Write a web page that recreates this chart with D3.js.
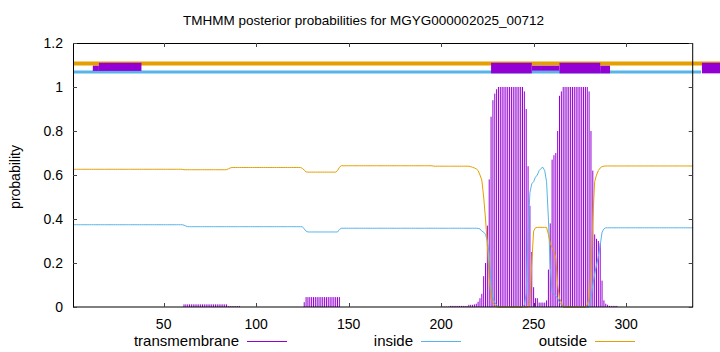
<!DOCTYPE html>
<html><head><meta charset="utf-8">
<script src="https://cdn.jsdelivr.net/npm/d3@7/dist/d3.min.js"></script>
<style>
body{margin:0;background:#fff;}
text{font-family:"Liberation Sans",Arial,Helvetica,sans-serif;fill:#000;}
</style>
</head><body>
<svg id="chart" width="720" height="352"></svg>
<script>
// ---------------- data ----------------
const title = "TMHMM posterior probabilities for MGYG000002025_00712";
const seriesNames = ["transmembrane", "inside", "outside"];
const xTicks = [50, 100, 150, 200, 250, 300];
const xTickLabels = ["50", "100", "150", "200", "250", "300"];
const yTicks = [0, 0.2, 0.4, 0.6, 0.8, 1, 1.2];
const yTickLabels = ["0", "0.2", "0.4", "0.6", "0.8", "1", "1.2"];
const seqLength = 336;

// posterior probability per residue (1..336)
const transmembrane = [
0,0,0,0,0,0,0,0,0,0,0,0,0,0,0,0,0,0,0,0,
0,0,0,0,0,0,0,0,0,0,0,0,0,0,0,0,0,0,0,0,
0,0,0,0,0,0,0,0,0,0,0,0,0,0,0,0,0,0,0,0,
0.012,0.012,0.012,0.012,0.012,0.012,0.012,0.012,0.012,0.012,0.012,0.012,0.012,0.012,0.012,0.012,0.012,0.012,0.012,0.012,
0.012,0.012,0.012,0.012,0.004,0.004,0.004,0.004,0.004,0.004,0.004,0,0,0,0,0,0,0,0,0,
0,0,0,0,0,0,0,0,0,0,0,0,0,0,0,0,0,0,0,0,
0,0,0,0,0,0.022,0.045,0.045,0.045,0.045,0.045,0.045,0.045,0.045,0.045,0.045,0.045,0.045,0.045,0.045,
0.045,0.045,0.045,0.045,0.045,0,0,0,0,0,0,0,0,0,0,0,0,0,0,0,
0,0,0,0,0,0,0,0,0,0,0,0,0,0,0,0,0,0,0,0,
0,0,0,0,0,0,0,0,0,0,0,0,0,0,0,0,0,0,0,0.002,
0.002,0.002,0.002,0.002,0.005,0.005,0.005,0.005,0.005,0.005,0.005,0.005,0.005,0.005,0.01,0.01,0.01,0.012,0.015,0.024,
0.04,0.06,0.14,0.2,0.37,0.58,0.865,0.94,0.97,0.99,1,1,1,1,1,1,1,1,1,1,
1,1,1,1,0.98,0.9,0.64,0.46,0.25,0.09,0.04,0.04,0.02,0.02,0.02,0.02,0.03,0.17,0.38,0.67,
0.69,0.7,0.8,0.96,0.98,1,1,1,1,1,1,1,1,1,1,1,1,1,1,0.98,
0.8,0.62,0.33,0.31,0.3,0.29,0.12,0.03,0.015,0.01,0.005,0.005,0.005,0.005,0.005,0,0,0,0,0,
0,0,0,0,0,0,0,0,0,0,0,0,0,0,0,0,0,0,0,0,
0,0,0,0,0,0,0,0,0,0,0,0,0,0,0,0
];
const inside = [
0.374,0.374,0.374,0.374,0.374,0.374,0.374,0.374,0.374,0.374,0.374,0.374,0.374,0.374,0.374,0.374,0.374,0.374,0.374,0.374,
0.374,0.374,0.374,0.374,0.374,0.374,0.374,0.374,0.374,0.374,0.374,0.374,0.374,0.374,0.374,0.374,0.374,0.374,0.374,0.374,
0.374,0.374,0.374,0.374,0.374,0.374,0.374,0.374,0.374,0.374,0.374,0.374,0.374,0.374,0.374,0.374,0.374,0.374,0.374,0.374,
0.372,0.368,0.365,0.365,0.365,0.365,0.365,0.365,0.365,0.365,0.365,0.365,0.365,0.365,0.365,0.365,0.365,0.365,0.365,0.365,
0.365,0.365,0.365,0.365,0.365,0.365,0.365,0.365,0.365,0.365,0.365,0.365,0.365,0.365,0.365,0.365,0.365,0.365,0.365,0.365,
0.365,0.365,0.365,0.365,0.365,0.365,0.365,0.365,0.365,0.365,0.365,0.365,0.365,0.365,0.365,0.365,0.365,0.365,0.365,0.365,
0.365,0.365,0.365,0.365,0.365,0.355,0.345,0.341,0.341,0.341,0.341,0.341,0.341,0.341,0.341,0.341,0.341,0.341,0.341,0.341,
0.341,0.341,0.341,0.341,0.352,0.358,0.358,0.358,0.358,0.358,0.358,0.358,0.358,0.358,0.358,0.358,0.358,0.358,0.358,0.358,
0.358,0.358,0.358,0.358,0.358,0.358,0.358,0.358,0.358,0.358,0.358,0.358,0.358,0.358,0.358,0.358,0.358,0.358,0.358,0.358,
0.358,0.358,0.358,0.358,0.358,0.358,0.358,0.358,0.358,0.358,0.358,0.358,0.358,0.358,0.358,0.358,0.358,0.358,0.358,0.358,
0.358,0.358,0.358,0.358,0.358,0.358,0.358,0.358,0.358,0.358,0.358,0.358,0.358,0.358,0.358,0.358,0.358,0.358,0.358,0.357,
0.355,0.345,0.34,0.33,0.3,0.24,0.1,0.04,0.02,0.01,0,0,0,0,0,0,0,0,0,0,
0,0,0,0,0.01,0.06,0.34,0.52,0.56,0.57,0.59,0.6,0.62,0.63,0.635,0.62,0.57,0.4,0.18,0.07,
0.06,0.05,0.04,0.02,0.01,0,0,0,0,0,0,0,0,0,0,0,0,0,0,0,
0.04,0.1,0.15,0.19,0.23,0.28,0.34,0.355,0.36,0.36,0.36,0.36,0.36,0.36,0.36,0.36,0.36,0.36,0.36,0.36,
0.36,0.36,0.36,0.36,0.36,0.36,0.36,0.36,0.36,0.36,0.36,0.36,0.36,0.36,0.36,0.36,0.36,0.36,0.36,0.36,
0.36,0.36,0.36,0.36,0.36,0.36,0.36,0.36,0.36,0.36,0.36,0.36,0.36,0.36,0.36,0.36
];
const outside = [
0.626,0.626,0.626,0.626,0.626,0.626,0.626,0.626,0.626,0.626,0.626,0.626,0.626,0.626,0.626,0.626,0.626,0.626,0.626,0.626,
0.626,0.626,0.626,0.626,0.626,0.626,0.626,0.626,0.626,0.626,0.626,0.626,0.626,0.626,0.626,0.626,0.626,0.626,0.626,0.626,
0.626,0.626,0.626,0.626,0.626,0.626,0.626,0.626,0.626,0.626,0.626,0.626,0.626,0.626,0.626,0.626,0.626,0.626,0.626,0.626,
0.624,0.624,0.624,0.624,0.624,0.624,0.624,0.624,0.624,0.624,0.624,0.624,0.624,0.624,0.624,0.624,0.624,0.624,0.624,0.624,
0.624,0.624,0.624,0.624,0.628,0.632,0.634,0.634,0.634,0.634,0.634,0.634,0.634,0.634,0.634,0.634,0.634,0.634,0.634,0.634,
0.634,0.634,0.634,0.634,0.634,0.634,0.634,0.634,0.634,0.634,0.634,0.634,0.634,0.634,0.634,0.634,0.634,0.634,0.634,0.634,
0.634,0.634,0.634,0.634,0.63,0.622,0.614,0.613,0.613,0.613,0.613,0.613,0.613,0.613,0.613,0.613,0.613,0.613,0.613,0.613,
0.613,0.613,0.613,0.62,0.635,0.642,0.642,0.642,0.642,0.642,0.642,0.642,0.642,0.642,0.642,0.642,0.642,0.642,0.642,0.642,
0.642,0.642,0.642,0.642,0.642,0.642,0.642,0.642,0.642,0.642,0.642,0.642,0.642,0.642,0.642,0.642,0.642,0.642,0.642,0.642,
0.642,0.642,0.642,0.642,0.642,0.642,0.642,0.642,0.642,0.642,0.642,0.642,0.642,0.642,0.642,0.64,0.64,0.64,0.64,0.64,
0.64,0.64,0.64,0.64,0.64,0.64,0.64,0.64,0.64,0.64,0.64,0.64,0.64,0.64,0.64,0.638,0.635,0.632,0.628,0.62,
0.6,0.577,0.5,0.4,0.28,0.13,0.04,0.02,0.01,0,0,0,0,0,0,0,0,0,0,0,
0,0,0,0,0,0,0,0.02,0.2,0.345,0.36,0.362,0.362,0.362,0.362,0.362,0.362,0.33,0.29,0.27,
0.255,0.22,0.1,0.04,0.02,0,0,0,0,0,0,0,0,0,0,0,0,0,0.01,0.04,
0.17,0.4,0.57,0.6,0.62,0.632,0.638,0.64,0.641,0.641,0.641,0.641,0.641,0.641,0.641,0.641,0.641,0.641,0.641,0.641,
0.641,0.641,0.641,0.641,0.641,0.641,0.641,0.641,0.641,0.641,0.641,0.641,0.641,0.641,0.641,0.641,0.641,0.641,0.641,0.641,
0.641,0.641,0.641,0.641,0.641,0.641,0.641,0.641,0.641,0.641,0.641,0.641,0.641,0.641,0.641,0.641
];

// predicted topology strip above the plot: [start residue, end residue]
const topOutside = [[1, 352]];
const topInside = [[1, 340.5]];
// membrane boxes: [start, end, upper value, lower value]
const topMembrane = [
  [11.7, 15, 1.097, 1.073],
  [15, 38, 1.110, 1.073],
  [227, 249, 1.110, 1.062],
  [249, 264, 1.097, 1.074],
  [264, 286, 1.110, 1.062],
  [286, 291.3, 1.097, 1.062],
  [341, 352, 1.110, 1.062]
];
const topOutsideLevel = 1.107;
const topInsideLevel = 1.068;

// ---------------- drawing ----------------
const colors = {transmembrane: "#9400d3", inside: "#56b4e9", outside: "#e69f00"};
const L = 73, R = 692.7, T = 43, B = 307;
const svg = d3.select("#chart");
const x = d3.scaleLinear().domain([1, seqLength]).range([L, R]);
const y = d3.scaleLinear().domain([0, 1.2]).range([B, T]);
const residues = transmembrane.map((d, i) => i + 1);

// impulses
svg.append("g").selectAll("line").data(residues).join("line")
  .attr("x1", d => x(d)).attr("x2", d => x(d))
  .attr("y1", y(0)).attr("y2", d => y(transmembrane[d - 1]))
  .attr("stroke", colors.transmembrane).attr("stroke-width", 1);

const lineGen = arr => d3.line().x(d => x(d)).y(d => y(arr[d - 1]))(residues);
svg.append("path").attr("d", lineGen(inside)).attr("fill", "none")
  .attr("stroke", colors.inside).attr("stroke-width", 1);
svg.append("path").attr("d", lineGen(outside)).attr("fill", "none")
  .attr("stroke", colors.outside).attr("stroke-width", 1);

// topology strip
svg.append("g").selectAll("line").data(topOutside).join("line")
  .attr("x1", d => x(d[0])).attr("x2", d => x(d[1]))
  .attr("y1", y(topOutsideLevel)).attr("y2", y(topOutsideLevel))
  .attr("stroke", colors.outside).attr("stroke-width", 4);
svg.append("g").selectAll("line").data(topInside).join("line")
  .attr("x1", d => x(d[0])).attr("x2", d => x(d[1]))
  .attr("y1", y(topInsideLevel)).attr("y2", y(topInsideLevel))
  .attr("stroke", colors.inside).attr("stroke-width", 3);
svg.append("g").selectAll("rect").data(topMembrane).join("rect")
  .attr("x", d => x(d[0])).attr("width", d => x(d[1]) - x(d[0]))
  .attr("y", d => y(d[2])).attr("height", d => y(d[3]) - y(d[2]))
  .attr("fill", colors.transmembrane);

// frame
svg.append("rect").attr("x", L + 0.5).attr("y", T + 0.5)
  .attr("width", R - L - 0.5).attr("height", B - T - 0.5)
  .attr("fill", "none").attr("stroke", "#000").attr("stroke-width", 1);

// ticks
const tk = 4;
const tg = svg.append("g").attr("stroke", "#444").attr("stroke-width", 1);
xTicks.forEach(v => {
  const px = Math.round(x(v)) + 0.5;
  tg.append("line").attr("x1", px).attr("x2", px).attr("y1", B).attr("y2", B - tk);
  tg.append("line").attr("x1", px).attr("x2", px).attr("y1", T).attr("y2", T + tk);
});
yTicks.forEach(v => {
  const py = Math.round(y(v)) + 0.5;
  tg.append("line").attr("x1", L).attr("x2", L + tk).attr("y1", py).attr("y2", py);
  tg.append("line").attr("x1", R).attr("x2", R - tk).attr("y1", py).attr("y2", py);
});

svg.append("g").selectAll("text").data(xTicks).join("text")
  .attr("x", d => x(d)).attr("y", 329).attr("text-anchor", "middle")
  .attr("font-size", 14).text((d, i) => xTickLabels[i]);
svg.append("g").selectAll("text").data(yTicks).join("text")
  .attr("x", 63).attr("y", d => y(d) + 5).attr("text-anchor", "end")
  .attr("font-size", 14).text((d, i) => yTickLabels[i]);

svg.append("text").attr("x", 363.5).attr("y", 25).attr("text-anchor", "middle")
  .attr("font-size", 13.5).text(title);
svg.append("text").attr("transform", "translate(20,177) rotate(-90)")
  .attr("text-anchor", "middle").attr("font-size", 14).text("probability");

// legend
const legendEnd = [239, 413, 587];
seriesNames.forEach((name, i) => {
  svg.append("text").attr("x", legendEnd[i]).attr("y", 346).attr("text-anchor", "end")
    .attr("font-size", 15).text(name);
  svg.append("line").attr("x1", legendEnd[i] + 8).attr("x2", legendEnd[i] + 48)
    .attr("y1", 341.5).attr("y2", 341.5)
    .attr("stroke", colors[name]).attr("stroke-width", 1);
});
</script>
</body></html>
